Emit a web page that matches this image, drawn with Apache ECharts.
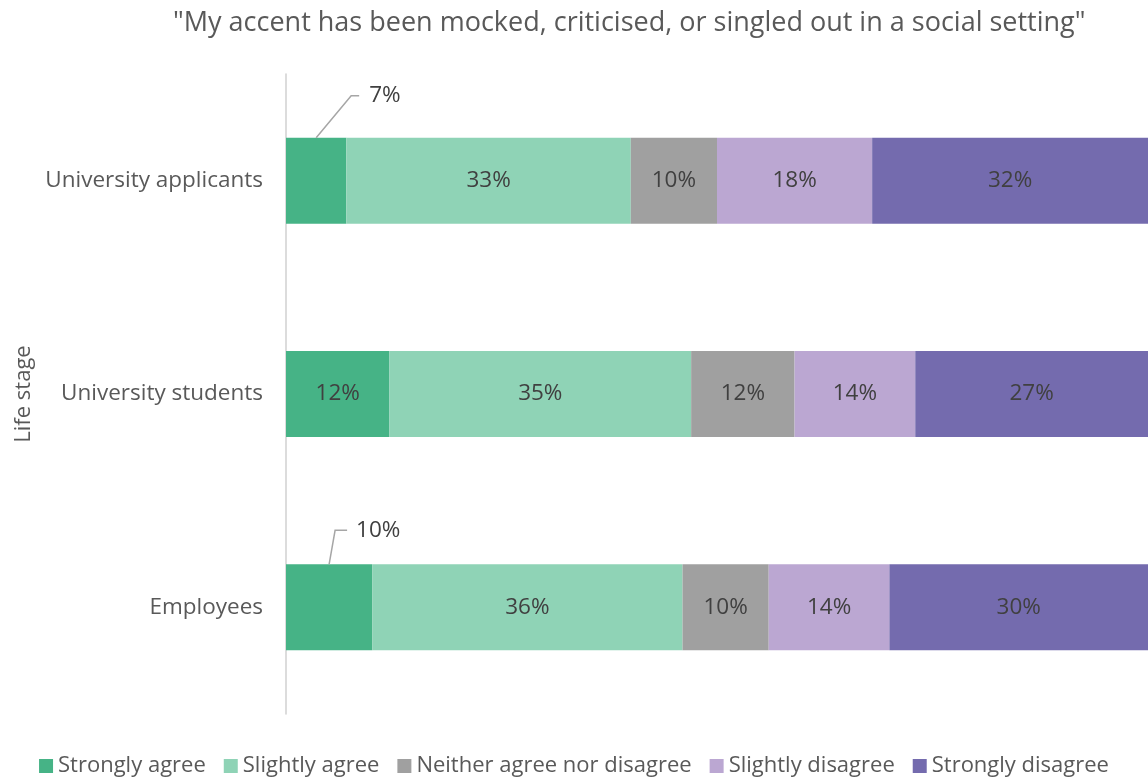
<!DOCTYPE html>
<html><head><meta charset="utf-8">
<script src="https://cdn.jsdelivr.net/npm/echarts@6/dist/echarts.min.js"></script>
<style>html,body{margin:0;padding:0;background:#fff}#c{width:1148px;height:778px}</style>
</head><body><div id="c"></div>
<script>
const categories = ['University applicants', 'University students', 'Employees'];
const seriesNames = ['Strongly agree', 'Slightly agree', 'Neither agree nor disagree', 'Slightly disagree', 'Strongly disagree'];
const stronglyAgree = [7, 12, 10];
const slightlyAgree = [33, 35, 36];
const neither = [10, 12, 10];
const slightlyDisagree = [18, 14, 14];
const stronglyDisagree = [32, 27, 30];
const outsideLabelIdx = [0, 2];

const colors = ['#46B386', '#8FD3B6', '#A0A0A0', '#BBA7D2', '#746BAE'];
const values = [stronglyAgree, slightlyAgree, neither, slightlyDisagree, stronglyDisagree];
// leader-line geometry (pixels): rise, run, horizontal tail, gap to text
const leaderGeom = {0: {rise: 42, run: 35, tail: 8, gap: 10}, 2: {rise: 34, run: 6, tail: 12, gap: 9}};
const BAR_W = 86;
const FONT = '"Open Sans", sans-serif';

const chart = echarts.init(document.getElementById('c'));
const series = seriesNames.map((name, i) => ({
  name, type: 'bar', stack: 'total', barWidth: BAR_W,
  itemStyle: {color: colors[i]},
  label: {show: true, position: 'inside', formatter: '{c}%', color: '#404040', fontSize: 22.5, fontFamily: FONT},
  data: values[i].map((v, j) => (i === 0 && outsideLabelIdx.includes(j)) ? {value: v, label: {show: false}} : v)
}));

series.push({
  type: 'custom', name: 'leaders', z: 5, silent: true,
  data: outsideLabelIdx.map(j => [stronglyAgree[j] / 2, j, stronglyAgree[j]]),
  encode: {x: 0, y: 1},
  renderItem: function (params, api) {
    const cat = api.value(1);
    const g = leaderGeom[cat];
    const p = api.coord([api.value(0), cat]);
    const top = p[1] - BAR_W / 2;
    const x1 = p[0] + g.run, y1 = top - g.rise, x2 = x1 + g.tail;
    return {
      type: 'group',
      children: [
        {type: 'polyline', shape: {points: [[p[0], top], [x1, y1], [x2, y1]]},
          style: {stroke: '#A6A6A6', lineWidth: 1.5, fill: null}},
        {type: 'text', x: x2 + g.gap, y: y1,
          style: {text: api.value(2) + '%', fill: '#404040', font: '22.5px ' + FONT, verticalAlign: 'middle'}}
      ]
    };
  }
});

chart.setOption({
  animation: false,
  textStyle: {fontFamily: FONT},
  title: {text: '"My accent has been mocked, criticised, or singled out in a social setting"', left: 168, top: 5,
    textStyle: {fontSize: 27, fontWeight: 'normal', color: '#595959', fontFamily: FONT}},
  legend: {data: seriesNames, bottom: -4, left: 'center', itemWidth: 14, itemHeight: 14, itemGap: 18, icon: 'rect',
    textStyle: {fontSize: 22, color: '#595959', fontFamily: FONT}},
  grid: {left: 286, right: 0, top: 74, bottom: 64, containLabel: false, outerBoundsMode: 'none'},
  xAxis: {type: 'value', min: 0, max: 100, show: false},
  yAxis: {type: 'category', data: categories, inverse: true,
    name: 'Life stage', nameLocation: 'middle', nameGap: 250, nameRotate: 90,
    nameTextStyle: {fontSize: 22, color: '#595959', fontFamily: FONT},
    axisLine: {lineStyle: {color: '#D0D0D0', width: 1.5}}, axisTick: {show: false},
    axisLabel: {fontSize: 22.5, color: '#595959', margin: 23, fontFamily: FONT}},
  series
});
</script></body></html>
